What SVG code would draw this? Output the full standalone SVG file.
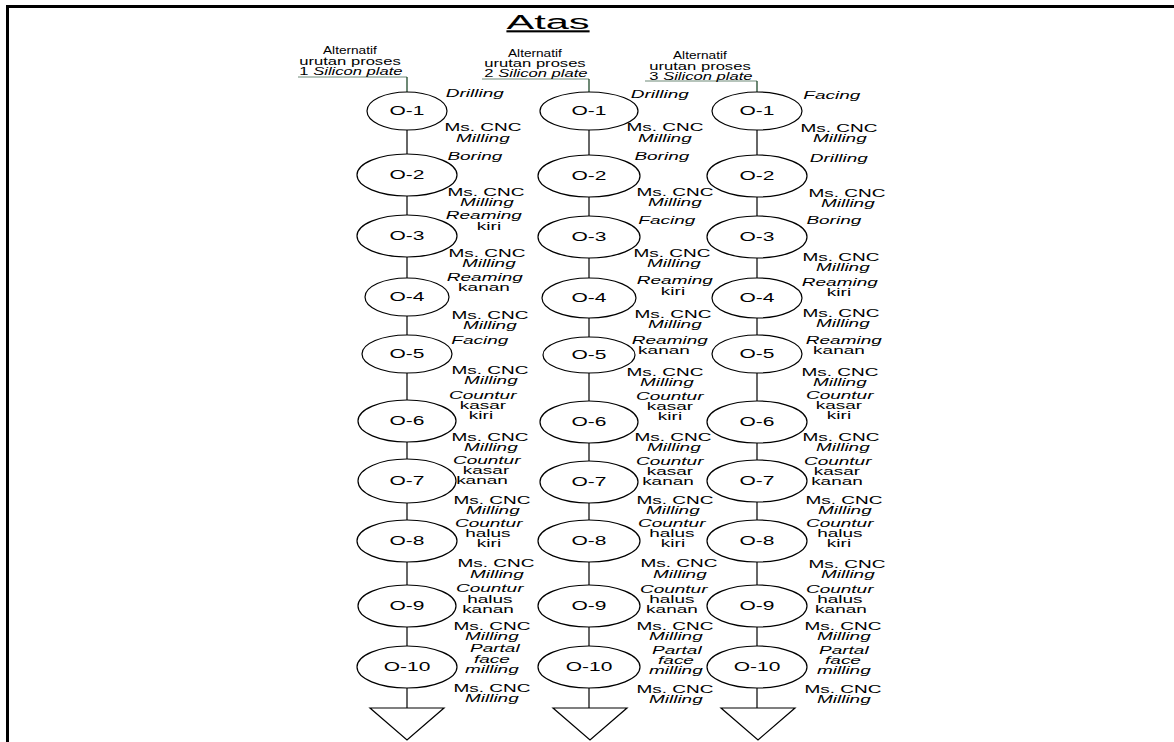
<svg xmlns="http://www.w3.org/2000/svg" width="1174" height="742" viewBox="0 0 1174 742">
<style>
text{font-family:"Liberation Sans",Arial,sans-serif;font-size:10px;fill:#000;text-anchor:middle;transform-box:fill-box;transform-origin:center;transform:scaleX(1.9)}
.i{font-style:italic}
.op{font-size:12px;transform:scaleX(1.75)}
.h{font-size:10.5px;transform:scaleX(1.58)}
.alt{font-size:10.5px;transform:scaleX(1.3)}
.ttl{font-size:21px;text-decoration:underline;transform:scaleX(1.98)}
.el{fill:#fff;stroke:#000;stroke-width:1.2}
.ln{stroke:#333;stroke-width:1.5;fill:none}
.hl{stroke:#6f8a78;stroke-width:1.2;fill:none}
.hv{stroke:#1f4a2a;stroke-width:1.3;fill:none}
.tri{fill:#fff;stroke:#000;stroke-width:1.2}
</style>
<rect width="1174" height="742" fill="#fff"/>
<path d="M7.5,742 V6.5 H1174" stroke="#000" stroke-width="3" fill="none"/>
<g id="title"><text class="ttl" x="548" y="29">Atas</text></g>
<g id="connectors">
<path class="hl" d="M298,77 H407"/><path class="hv" d="M407,77 V92"/>
<path class="hl" d="M482,79 H589"/><path class="hv" d="M589,79 V92"/>
<path class="hl" d="M645,81 H757"/><path class="hv" d="M757,81 V92"/>
<path class="ln" d="M407,92 V708"/>
<path class="ln" d="M589,92 V708"/>
<path class="ln" d="M757,92 V708"/>
</g>
<g id="header1"><text class="alt" x="350" y="54">Alternatif</text><text class="h" x="350" y="65">urutan proses</text><text class="h" x="351" y="75">1 <tspan class="i">Silicon plate</tspan></text></g>
<g id="header2"><text class="alt" x="535" y="57">Alternatif</text><text class="h" x="535" y="67">urutan proses</text><text class="h" x="536" y="77">2 <tspan class="i">Silicon plate</tspan></text></g>
<g id="header3"><text class="alt" x="700" y="59">Alternatif</text><text class="h" x="700" y="70">urutan proses</text><text class="h" x="701" y="80">3 <tspan class="i">Silicon plate</tspan></text></g>
<!-- column 1 -->
<g id="c1-o1"><ellipse class="el" cx="407" cy="111" rx="40" ry="19"/><text class="op" x="407" y="115.5">O-1</text><text class="i" x="475" y="97">Drilling</text><text x="483" y="131">Ms. CNC</text><text class="i" x="483" y="142">Milling</text></g>
<g id="c1-o2"><ellipse class="el" cx="407" cy="175" rx="50" ry="21"/><text class="op" x="407" y="179.5">O-2</text><text class="i" x="475" y="160">Boring</text><text x="486" y="196">Ms. CNC</text><text class="i" x="487" y="206">Milling</text></g>
<g id="c1-o3"><ellipse class="el" cx="407" cy="236" rx="50" ry="21"/><text class="op" x="407" y="240.5">O-3</text><text class="i" x="484" y="219">Reaming</text><text x="489" y="230">kiri</text><text x="487" y="257">Ms. CNC</text><text class="i" x="489" y="267">Milling</text></g>
<g id="c1-o4"><ellipse class="el" cx="407" cy="297" rx="42" ry="19"/><text class="op" x="407" y="301.5">O-4</text><text class="i" x="485" y="281">Reaming</text><text x="484" y="291">kanan</text><text x="490" y="319">Ms. CNC</text><text class="i" x="490" y="329">Milling</text></g>
<g id="c1-o5"><ellipse class="el" cx="407" cy="354" rx="45" ry="19"/><text class="op" x="407" y="358.5">O-5</text><text class="i" x="480" y="344">Facing</text><text x="490" y="374">Ms. CNC</text><text class="i" x="491" y="384">Milling</text></g>
<g id="c1-o6"><ellipse class="el" cx="407" cy="421" rx="49" ry="21"/><text class="op" x="407" y="425.5">O-6</text><text class="i" x="483" y="399">Countur</text><text x="483" y="409">kasar</text><text x="481" y="419">kiri</text><text x="490" y="441">Ms. CNC</text><text class="i" x="491" y="451">Milling</text></g>
<g id="c1-o7"><ellipse class="el" cx="407" cy="481" rx="49" ry="22"/><text class="op" x="407" y="485.5">O-7</text><text class="i" x="487" y="464">Countur</text><text x="486" y="474">kasar</text><text x="482" y="484">kanan</text><text x="492" y="504">Ms. CNC</text><text class="i" x="493" y="514">Milling</text></g>
<g id="c1-o8"><ellipse class="el" cx="407" cy="541" rx="50" ry="21"/><text class="op" x="407" y="545.5">O-8</text><text class="i" x="489" y="527">Countur</text><text x="488" y="537">halus</text><text x="489" y="547">kiri</text><text x="496" y="567">Ms. CNC</text><text class="i" x="497" y="578">Milling</text></g>
<g id="c1-o9"><ellipse class="el" cx="407" cy="606" rx="49" ry="21"/><text class="op" x="407" y="610.5">O-9</text><text class="i" x="490" y="592">Countur</text><text x="490" y="603">halus</text><text x="488" y="613">kanan</text><text x="492" y="630">Ms. CNC</text><text class="i" x="492" y="640">Milling</text></g>
<g id="c1-o10"><ellipse class="el" cx="407" cy="667" rx="50" ry="21"/><text class="op" x="407" y="671.5">O-10</text><text class="i" x="495" y="652">Partal</text><text class="i" x="492" y="663">face</text><text class="i" x="492" y="673">milling</text><text x="492" y="692">Ms. CNC</text><text class="i" x="492" y="702">Milling</text></g>
<g id="c1-end"><path class="tri" d="M370,708 H444 L407,740 Z"/></g>
<!-- column 2 -->
<g id="c2-o1"><ellipse class="el" cx="589" cy="111" rx="49" ry="19"/><text class="op" x="589" y="115.5">O-1</text><text class="i" x="660" y="98">Drilling</text><text x="665" y="131">Ms. CNC</text><text class="i" x="665" y="142">Milling</text></g>
<g id="c2-o2"><ellipse class="el" cx="589" cy="176" rx="51" ry="21"/><text class="op" x="589" y="180.5">O-2</text><text class="i" x="662" y="160">Boring</text><text x="675" y="196">Ms. CNC</text><text class="i" x="675" y="206">Milling</text></g>
<g id="c2-o3"><ellipse class="el" cx="589" cy="237" rx="51" ry="21"/><text class="op" x="589" y="241.5">O-3</text><text class="i" x="667" y="224">Facing</text><text x="672" y="257">Ms. CNC</text><text class="i" x="674" y="267">Milling</text></g>
<g id="c2-o4"><ellipse class="el" cx="589" cy="298" rx="47" ry="20"/><text class="op" x="589" y="302.5">O-4</text><text class="i" x="675" y="284">Reaming</text><text x="673" y="295">kiri</text><text x="673" y="318">Ms. CNC</text><text class="i" x="675" y="328">Milling</text></g>
<g id="c2-o5"><ellipse class="el" cx="589" cy="355" rx="46" ry="18"/><text class="op" x="589" y="359.5">O-5</text><text class="i" x="670" y="344">Reaming</text><text x="664" y="354">kanan</text><text x="665" y="376">Ms. CNC</text><text class="i" x="667" y="386">Milling</text></g>
<g id="c2-o6"><ellipse class="el" cx="589" cy="422" rx="49" ry="21"/><text class="op" x="589" y="426.5">O-6</text><text class="i" x="670" y="400">Countur</text><text x="670" y="410">kasar</text><text x="670" y="420">kiri</text><text x="673" y="441">Ms. CNC</text><text class="i" x="674" y="451">Milling</text></g>
<g id="c2-o7"><ellipse class="el" cx="589" cy="482" rx="49" ry="21"/><text class="op" x="589" y="486.5">O-7</text><text class="i" x="670" y="465">Countur</text><text x="670" y="475">kasar</text><text x="668" y="485">kanan</text><text x="675" y="504">Ms. CNC</text><text class="i" x="673" y="514">Milling</text></g>
<g id="c2-o8"><ellipse class="el" cx="589" cy="541" rx="51" ry="21"/><text class="op" x="589" y="545.5">O-8</text><text class="i" x="672" y="527">Countur</text><text x="672" y="537">halus</text><text x="673" y="547">kiri</text><text x="679" y="567">Ms. CNC</text><text class="i" x="680" y="578">Milling</text></g>
<g id="c2-o9"><ellipse class="el" cx="589" cy="606" rx="51" ry="21"/><text class="op" x="589" y="610.5">O-9</text><text class="i" x="674" y="593">Countur</text><text x="672" y="603">halus</text><text x="672" y="613">kanan</text><text x="675" y="630">Ms. CNC</text><text class="i" x="676" y="640">Milling</text></g>
<g id="c2-o10"><ellipse class="el" cx="589" cy="667" rx="51" ry="21"/><text class="op" x="589" y="671.5">O-10</text><text class="i" x="677" y="654">Partal</text><text class="i" x="676" y="664">face</text><text class="i" x="676" y="674">milling</text><text x="675" y="693">Ms. CNC</text><text class="i" x="676" y="703">Milling</text></g>
<g id="c2-end"><path class="tri" d="M553,708 H627 L590,740 Z"/></g>
<!-- column 3 -->
<g id="c3-o1"><ellipse class="el" cx="757" cy="111" rx="45" ry="19"/><text class="op" x="757" y="115.5">O-1</text><text class="i" x="832" y="99">Facing</text><text x="839" y="132">Ms. CNC</text><text class="i" x="840" y="142">Milling</text></g>
<g id="c3-o2"><ellipse class="el" cx="757" cy="176" rx="50" ry="21"/><text class="op" x="757" y="180.5">O-2</text><text class="i" x="839" y="162">Drilling</text><text x="847" y="197">Ms. CNC</text><text class="i" x="848" y="207">Milling</text></g>
<g id="c3-o3"><ellipse class="el" cx="757" cy="237" rx="50" ry="21"/><text class="op" x="757" y="241.5">O-3</text><text class="i" x="834" y="224">Boring</text><text x="841" y="261">Ms. CNC</text><text class="i" x="843" y="271">Milling</text></g>
<g id="c3-o4"><ellipse class="el" cx="757" cy="298" rx="45" ry="20"/><text class="op" x="757" y="302.5">O-4</text><text class="i" x="840" y="286">Reaming</text><text x="839" y="296">kiri</text><text x="841" y="317">Ms. CNC</text><text class="i" x="843" y="327">Milling</text></g>
<g id="c3-o5"><ellipse class="el" cx="757" cy="354" rx="45" ry="19"/><text class="op" x="757" y="358.5">O-5</text><text class="i" x="844" y="344">Reaming</text><text x="839" y="354">kanan</text><text x="840" y="376">Ms. CNC</text><text class="i" x="840" y="386">Milling</text></g>
<g id="c3-o6"><ellipse class="el" cx="757" cy="422" rx="50" ry="21"/><text class="op" x="757" y="426.5">O-6</text><text class="i" x="840" y="399">Countur</text><text x="839" y="409">kasar</text><text x="839" y="419">kiri</text><text x="841" y="441">Ms. CNC</text><text class="i" x="843" y="451">Milling</text></g>
<g id="c3-o7"><ellipse class="el" cx="757" cy="481" rx="50" ry="21"/><text class="op" x="757" y="485.5">O-7</text><text class="i" x="838" y="465">Countur</text><text x="837" y="475">kasar</text><text x="837" y="485">kanan</text><text x="844" y="504">Ms. CNC</text><text class="i" x="845" y="514">Milling</text></g>
<g id="c3-o8"><ellipse class="el" cx="757" cy="541" rx="50" ry="21"/><text class="op" x="757" y="545.5">O-8</text><text class="i" x="840" y="527">Countur</text><text x="840" y="537">halus</text><text x="839" y="547">kiri</text><text x="847" y="568">Ms. CNC</text><text class="i" x="848" y="578">Milling</text></g>
<g id="c3-o9"><ellipse class="el" cx="757" cy="606" rx="50" ry="21"/><text class="op" x="757" y="610.5">O-9</text><text class="i" x="840" y="593">Countur</text><text x="840" y="603">halus</text><text x="841" y="613">kanan</text><text x="843" y="630">Ms. CNC</text><text class="i" x="844" y="640">Milling</text></g>
<g id="c3-o10"><ellipse class="el" cx="757" cy="667" rx="50" ry="21"/><text class="op" x="757" y="671.5">O-10</text><text class="i" x="844" y="654">Partal</text><text class="i" x="843" y="664">face</text><text class="i" x="844" y="674">milling</text><text x="843" y="693">Ms. CNC</text><text class="i" x="844" y="703">Milling</text></g>
<g id="c3-end"><path class="tri" d="M721,708 H795 L758,740 Z"/></g>
</svg>
